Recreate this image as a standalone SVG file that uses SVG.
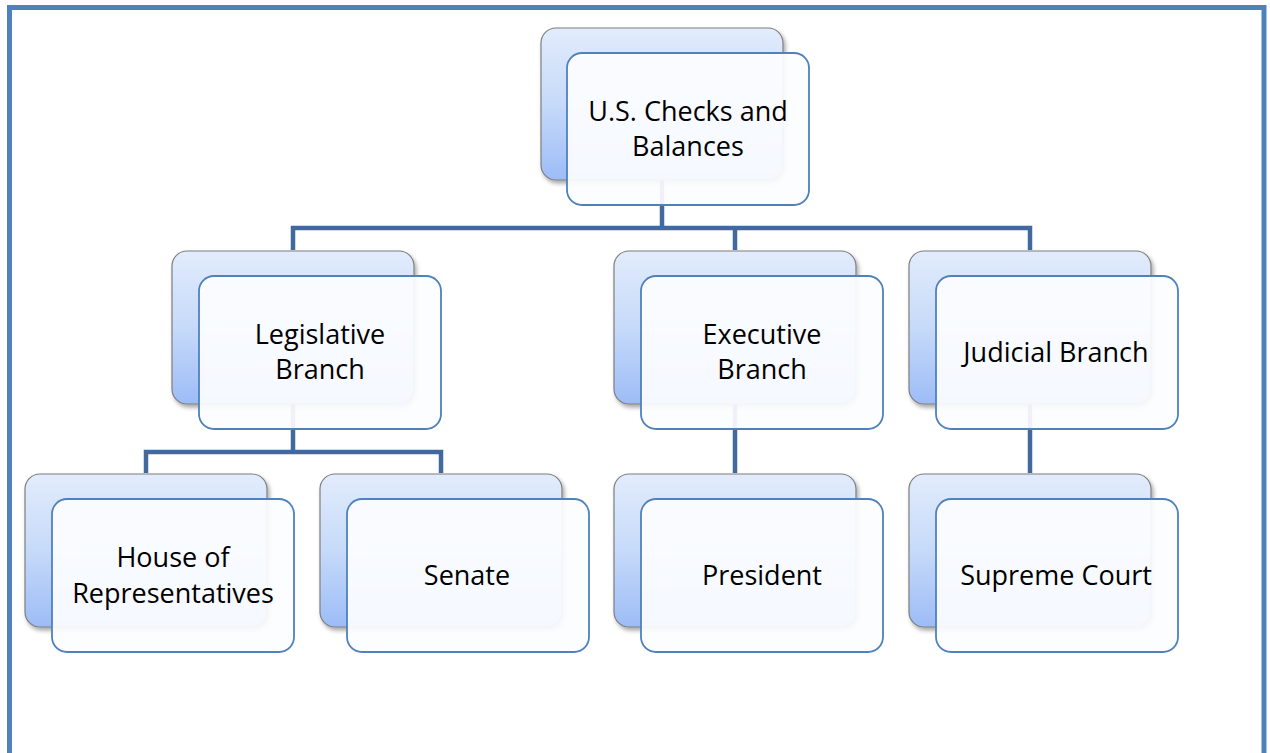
<svg xmlns="http://www.w3.org/2000/svg" width="1270" height="753" viewBox="0 0 1270 753">
<style>
.back{fill:url(#g);stroke:#7f7f7f;stroke-width:1.2;filter:url(#sh)}
.front{fill:#fcfdff;fill-opacity:0.93;stroke:#4f81bd;stroke-width:1.8}
.t{font-family:"Open Sans","Liberation Sans",sans-serif;font-size:27px;fill:#000;text-anchor:middle}
.c{stroke:#41689f;stroke-width:4.5;fill:none}
</style>
<defs>
<linearGradient id="g" x1="0" y1="0" x2="0" y2="1">
<stop offset="0" stop-color="#e2ecfc"/>
<stop offset="0.5" stop-color="#c6daf9"/>
<stop offset="1" stop-color="#9dbcf7"/>
</linearGradient>
<filter id="sh" x="-10%" y="-10%" width="130%" height="130%">
<feDropShadow dx="2" dy="3" stdDeviation="2" flood-color="#000" flood-opacity="0.35"/>
</filter>
</defs>
<rect x="0" y="0" width="1270" height="753" fill="#fff"/>
<path d="M9.5 760 V7.5 H1264 V760" fill="none" stroke="#4f81bd" stroke-width="5"/>
<g id="connectors">
<path class="c" d="M662 180 V228 M293 250 V228 H1030 V250 M735 228 V250"/>
<path class="c" d="M293 404 V452 M146 473 V452 H441 V473"/>
<path class="c" d="M735 404 V473 M1030 404 V473"/>
</g>
<g id="root">
<rect class="back" x="541" y="28" width="242" height="152" rx="15"/>
<rect class="front" x="567" y="53" width="242" height="152" rx="15"/>
<text class="t" x="688" y="121">U.S. Checks and</text>
<text class="t" x="688" y="156">Balances</text>
</g>
<g id="legislative">
<rect class="back" x="172" y="251" width="242" height="153" rx="15"/>
<rect class="front" x="199" y="276" width="242" height="153" rx="15"/>
<text class="t" x="320" y="344">Legislative</text>
<text class="t" x="320" y="379">Branch</text>
</g>
<g id="executive">
<rect class="back" x="614" y="251" width="242" height="153" rx="15"/>
<rect class="front" x="641" y="276" width="242" height="153" rx="15"/>
<text class="t" x="762" y="344">Executive</text>
<text class="t" x="762" y="379">Branch</text>
</g>
<g id="judicial">
<rect class="back" x="909" y="251" width="242" height="153" rx="15"/>
<rect class="front" x="936" y="276" width="242" height="153" rx="15"/>
<text class="t" x="1056" y="362">Judicial Branch</text>
</g>
<g id="house">
<rect class="back" x="25" y="474" width="242" height="153" rx="15"/>
<rect class="front" x="52" y="499" width="242" height="153" rx="15"/>
<text class="t" x="173" y="567">House of</text>
<text class="t" x="173" y="603">Representatives</text>
</g>
<g id="senate">
<rect class="back" x="320" y="474" width="242" height="153" rx="15"/>
<rect class="front" x="347" y="499" width="242" height="153" rx="15"/>
<text class="t" x="467" y="585">Senate</text>
</g>
<g id="president">
<rect class="back" x="614" y="474" width="242" height="153" rx="15"/>
<rect class="front" x="641" y="499" width="242" height="153" rx="15"/>
<text class="t" x="762" y="585">President</text>
</g>
<g id="supreme">
<rect class="back" x="909" y="474" width="242" height="153" rx="15"/>
<rect class="front" x="936" y="499" width="242" height="153" rx="15"/>
<text class="t" x="1056" y="585">Supreme Court</text>
</g>
</svg>
